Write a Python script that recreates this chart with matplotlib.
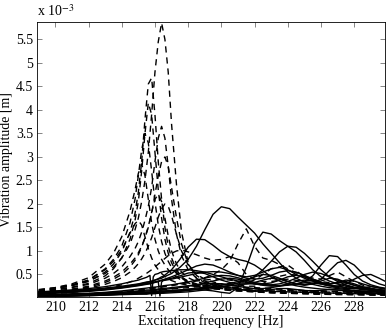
import matplotlib
matplotlib.use("Agg")
import matplotlib.pyplot as plt
import numpy as np
from matplotlib.ticker import FormatStrFormatter

plt.rcParams['font.family'] = ['Liberation Serif', 'DejaVu Serif']
plt.rcParams['mathtext.fontset'] = 'stix'

# frequency grids [Hz]
freq_dashed = [209, 210, 211, 212, 213, 213.5, 214, 214.5, 214.8,
               215.0, 215.2, 215.4, 215.6, 215.8, 216.0, 216.2, 216.4, 216.6, 216.8,
               217.0, 217.3, 217.6, 218, 218.5, 219, 219.5, 220, 220.5, 221, 221.5,
               222, 222.5, 223, 224, 225, 226, 227, 228, 229, 230]
freq_solid = [209, 210, 211, 212, 213, 214, 215,
              215.5, 215.7, 215.8, 215.9, 216, 216.2, 216.3, 216.4, 216.5,
              217, 217.5, 218, 218.5, 219, 219.5, 220, 220.5, 221, 221.5, 222, 222.5,
              223, 223.5, 224, 224.5, 225, 225.5, 226, 226.5, 227, 227.5, 228, 228.5,
              229, 229.5, 230]

# amplitudes (x 1e-3 m), dashed curves
amp_dashed = [
    [0.18, 0.22, 0.28, 0.36, 0.52, 0.66, 0.85, 1.15, 1.45,
     1.7, 2.05, 2.5, 3.1, 3.9, 4.8, 5.45, 5.85, 5.5, 4.8,
     3.7, 2.4, 1.4, 0.75, 0.42, 0.3, 0.24, 0.2, 0.17, 0.15, 0.14, 0.13, 0.12, 0.11, 0.1, 0.09, 0.08, 0.07, 0.07, 0.06, 0.06],
    [0.16, 0.2, 0.26, 0.35, 0.55, 0.72, 0.98, 1.4, 1.8,
     2.25, 2.9, 3.8, 4.55, 4.68, 3.9, 2.9, 2.1, 1.5, 1.1,
     0.85, 0.6, 0.45, 0.35, 0.28, 0.24, 0.2, 0.18, 0.16, 0.15, 0.14, 0.13, 0.12, 0.11, 0.1, 0.09, 0.08, 0.08, 0.07, 0.07, 0.06],
    [0.14, 0.18, 0.23, 0.31, 0.47, 0.62, 0.85, 1.25, 1.65,
     2.05, 2.7, 3.5, 4.15, 3.9, 3.1, 2.3, 1.7, 1.25, 0.95,
     0.75, 0.55, 0.42, 0.33, 0.26, 0.22, 0.2, 0.18, 0.17, 0.16, 0.15, 0.14, 0.13, 0.12, 0.11, 0.1, 0.09, 0.08, 0.08, 0.07, 0.07],
    [0.13, 0.17, 0.22, 0.29, 0.42, 0.52, 0.66, 0.88, 1.05,
     1.2, 1.4, 1.65, 1.95, 2.35, 2.9, 3.4, 3.65, 3.4, 2.8,
     2.1, 1.35, 0.9, 0.6, 0.42, 0.33, 0.28, 0.25, 0.22, 0.2, 0.18, 0.17, 0.16, 0.15, 0.13, 0.12, 0.11, 0.1, 0.09, 0.08, 0.08],
    [0.15, 0.2, 0.27, 0.38, 0.62, 0.82, 1.1, 1.6, 2.1,
     2.6, 3.15, 3.5, 3.3, 2.7, 2.05, 1.55, 1.2, 0.95, 0.78,
     0.65, 0.52, 0.43, 0.36, 0.3, 0.26, 0.23, 0.21, 0.19, 0.18, 0.17, 0.16, 0.15, 0.14, 0.12, 0.11, 0.1, 0.09, 0.09, 0.08, 0.08],
    [0.12, 0.15, 0.19, 0.25, 0.36, 0.44, 0.55, 0.72, 0.85,
     0.96, 1.1, 1.28, 1.5, 1.8, 2.2, 2.6, 2.9, 3.0, 2.8,
     2.35, 1.7, 1.15, 0.72, 0.48, 0.36, 0.3, 0.26, 0.23, 0.21, 0.2, 0.19, 0.18, 0.17, 0.15, 0.14, 0.13, 0.12, 0.11, 0.1, 0.1],
    [0.17, 0.22, 0.3, 0.43, 0.72, 0.95, 1.3, 1.85, 2.3,
     2.65, 2.85, 2.6, 2.1, 1.6, 1.25, 1.0, 0.82, 0.7, 0.6,
     0.52, 0.44, 0.38, 0.32, 0.27, 0.24, 0.22, 0.2, 0.19, 0.18, 0.17, 0.16, 0.15, 0.14, 0.13, 0.12, 0.11, 0.1, 0.1, 0.09, 0.09],
    [0.11, 0.14, 0.18, 0.23, 0.33, 0.4, 0.5, 0.66, 0.8,
     0.92, 1.08, 1.28, 1.52, 1.82, 2.1, 2.2, 2.05, 1.7, 1.32,
     1.0, 0.72, 0.55, 0.43, 0.35, 0.3, 0.27, 0.25, 0.23, 0.22, 0.21, 0.2, 0.19, 0.18, 0.16, 0.15, 0.14, 0.13, 0.12, 0.11, 0.1],
    [0.1, 0.13, 0.16, 0.21, 0.29, 0.35, 0.43, 0.55, 0.65,
     0.73, 0.83, 0.95, 1.1, 1.28, 1.5, 1.72, 1.9, 2.0, 1.95,
     1.75, 1.35, 1.0, 0.7, 0.5, 0.4, 0.34, 0.3, 0.27, 0.25, 0.23, 0.22, 0.21, 0.2, 0.18, 0.16, 0.15, 0.14, 0.13, 0.12, 0.11],
    [0.15, 0.2, 0.27, 0.38, 0.6, 0.78, 1.02, 1.38, 1.58,
     1.65, 1.55, 1.3, 1.05, 0.85, 0.7, 0.6, 0.52, 0.46, 0.41,
     0.37, 0.33, 0.3, 0.27, 0.24, 0.22, 0.2, 0.19, 0.18, 0.17, 0.16, 0.15, 0.14, 0.13, 0.12, 0.11, 0.1, 0.1, 0.09, 0.09, 0.08],
    [0.05, 0.06, 0.07, 0.08, 0.1, 0.11, 0.12, 0.14, 0.15,
     0.16, 0.17, 0.18, 0.19, 0.2, 0.21, 0.22, 0.23, 0.24, 0.25,
     0.26, 0.28, 0.3, 0.33, 0.38, 0.43, 0.5, 0.6, 0.78, 1.15, 1.47, 1.1, 0.85, 0.8, 0.62, 0.45, 0.35, 0.3, 0.22, 0.17, 0.14],
    [0.08, 0.1, 0.12, 0.15, 0.2, 0.24, 0.28, 0.34, 0.38,
     0.42, 0.46, 0.5, 0.55, 0.6, 0.66, 0.72, 0.78, 0.84, 0.9,
     0.95, 1.0, 1.02, 0.98, 0.92, 0.85, 0.8, 0.82, 0.88, 0.75, 0.5, 0.4, 0.35, 0.35, 0.4, 0.35, 0.3, 0.25, 0.2, 0.16, 0.13],
    [0.06, 0.07, 0.08, 0.09, 0.11, 0.12, 0.13, 0.15, 0.16,
     0.17, 0.18, 0.19, 0.2, 0.21, 0.22, 0.23, 0.24, 0.25, 0.26,
     0.27, 0.29, 0.31, 0.33, 0.36, 0.38, 0.4, 0.4, 0.38, 0.35, 0.33, 0.38, 0.5, 0.62, 0.7, 0.45, 0.4, 0.55, 0.35, 0.2, 0.14],
    [0.05, 0.06, 0.07, 0.08, 0.09, 0.1, 0.11, 0.12, 0.13,
     0.14, 0.14, 0.15, 0.15, 0.16, 0.16, 0.17, 0.17, 0.18, 0.18,
     0.19, 0.2, 0.21, 0.22, 0.24, 0.26, 0.28, 0.3, 0.3, 0.28, 0.25, 0.25, 0.3, 0.42, 0.5, 0.48, 0.3, 0.22, 0.15, 0.1, 0.08],
]

# amplitudes (x 1e-3 m), solid curves
amp_solid = [
    [0.12, 0.14, 0.16, 0.18, 0.21, 0.25, 0.3,
     0.34, 0.35, 0.36, 0.37, 0.38, 0.4, 0.41, 0.42, 0.44,
     0.52, 0.65, 0.82, 1.1, 1.45, 1.78, 1.94, 1.9, 1.72, 1.55, 1.38, 1.15, 0.95, 0.75,
     0.55, 0.42, 0.34, 0.29, 0.25, 0.22, 0.2, 0.18, 0.16, 0.15, 0.14, 0.13, 0.12],
    [0.1, 0.12, 0.14, 0.16, 0.19, 0.23, 0.29,
     0.33, 0.34, 0.35, 0.36, 0.38, 0.41, 0.43, 0.45, 0.46,
     0.6, 0.82, 1.08, 1.25, 1.24, 1.12, 0.98, 0.88, 0.82, 0.78, 0.7, 0.58, 0.45, 0.36,
     0.3, 0.26, 0.23, 0.21, 0.19, 0.18, 0.17, 0.16, 0.15, 0.14, 0.13, 0.12, 0.12],
    [0.05, 0.06, 0.07, 0.08, 0.09, 0.1, 0.12,
     0.13, 0.13, 0.13, 0.14, 0.14, 0.14, 0.15, 0.15, 0.15,
     0.16, 0.17, 0.18, 0.18, 0.17, 0.15, 0.12, 0.1, 0.22, 0.65, 1.15, 1.4, 1.36, 1.22,
     1.1, 0.98, 0.8, 0.6, 0.45, 0.36, 0.3, 0.25, 0.22, 0.19, 0.17, 0.16, 0.15],
    [0.04, 0.05, 0.06, 0.07, 0.08, 0.09, 0.1,
     0.11, 0.11, 0.11, 0.12, 0.12, 0.12, 0.13, 0.13, 0.13,
     0.14, 0.15, 0.17, 0.19, 0.21, 0.24, 0.27, 0.31, 0.35, 0.38, 0.45, 0.6, 0.78, 0.98,
     1.1, 1.08, 0.95, 0.78, 0.6, 0.45, 0.35, 0.28, 0.23, 0.2, 0.18, 0.16, 0.15],
    [0.03, 0.04, 0.05, 0.06, 0.07, 0.08, 0.09,
     0.1, 0.1, 0.1, 0.1, 0.11, 0.11, 0.11, 0.11, 0.12,
     0.13, 0.14, 0.16, 0.18, 0.2, 0.22, 0.24, 0.26, 0.28, 0.3, 0.3, 0.29, 0.27, 0.26,
     0.27, 0.3, 0.35, 0.47, 0.7, 0.9, 0.88, 0.7, 0.5, 0.36, 0.28, 0.23, 0.2],
    [0.03, 0.035, 0.04, 0.05, 0.06, 0.07, 0.08,
     0.08, 0.09, 0.09, 0.09, 0.09, 0.1, 0.1, 0.1, 0.1,
     0.11, 0.12, 0.13, 0.15, 0.17, 0.2, 0.23, 0.27, 0.32, 0.38, 0.45, 0.5, 0.48, 0.42,
     0.35, 0.3, 0.27, 0.3, 0.4, 0.58, 0.75, 0.8, 0.7, 0.52, 0.38, 0.3, 0.25],
    [0.06, 0.07, 0.08, 0.09, 0.1, 0.12, 0.14,
     0.15, 0.15, 0.16, 0.16, 0.16, 0.17, 0.17, 0.17, 0.18,
     0.2, 0.22, 0.25, 0.28, 0.32, 0.36, 0.4, 0.42, 0.4, 0.35, 0.3, 0.27, 0.25, 0.26,
     0.3, 0.35, 0.38, 0.36, 0.3, 0.26, 0.25, 0.3, 0.4, 0.48, 0.5, 0.42, 0.33],
    [0.09, 0.11, 0.13, 0.15, 0.18, 0.22, 0.27,
     0.3, 0.31, 0.32, 0.33, 0.34, 0.36, 0.37, 0.38, 0.39,
     0.45, 0.52, 0.6, 0.68, 0.72, 0.7, 0.63, 0.55, 0.48, 0.42, 0.4, 0.42, 0.48, 0.55,
     0.58, 0.55, 0.48, 0.4, 0.33, 0.28, 0.25, 0.22, 0.2, 0.18, 0.16, 0.15, 0.14],
    [0.13, 0.15, 0.17, 0.2, 0.24, 0.3, 0.38,
     0.44, 0.48, 0.05, 0.45, 0.5, 0.52, 0.54, 0.55, 0.56,
     0.58, 0.6, 0.6, 0.58, 0.55, 0.5, 0.45, 0.4, 0.36, 0.33, 0.3, 0.28, 0.28, 0.3,
     0.35, 0.42, 0.5, 0.55, 0.52, 0.45, 0.38, 0.32, 0.27, 0.23, 0.2, 0.18, 0.16],
    [0.08, 0.1, 0.12, 0.14, 0.17, 0.21, 0.26,
     0.29, 0.3, 0.31, 0.32, 0.33, 0.35, 0.04, 0.34, 0.37,
     0.4, 0.44, 0.48, 0.52, 0.55, 0.56, 0.55, 0.52, 0.48, 0.45, 0.48, 0.55, 0.62, 0.65,
     0.6, 0.5, 0.42, 0.36, 0.32, 0.3, 0.32, 0.35, 0.3, 0.24, 0.2, 0.17, 0.15],
    [0.06, 0.07, 0.09, 0.1, 0.12, 0.15, 0.19,
     0.21, 0.22, 0.22, 0.23, 0.23, 0.24, 0.25, 0.25, 0.26,
     0.28, 0.31, 0.34, 0.38, 0.42, 0.46, 0.48, 0.47, 0.43, 0.38, 0.33, 0.3, 0.32, 0.38,
     0.45, 0.48, 0.45, 0.38, 0.32, 0.3, 0.33, 0.38, 0.36, 0.3, 0.25, 0.21, 0.18],
    [0.11, 0.12, 0.14, 0.16, 0.19, 0.23, 0.28,
     0.31, 0.32, 0.32, 0.33, 0.34, 0.35, 0.36, 0.37, 0.38,
     0.42, 0.47, 0.53, 0.55, 0.52, 0.45, 0.38, 0.33, 0.3, 0.3, 0.33, 0.38, 0.42, 0.4,
     0.35, 0.3, 0.28, 0.3, 0.36, 0.42, 0.4, 0.33, 0.27, 0.22, 0.19, 0.16, 0.14],
    [0.05, 0.06, 0.07, 0.08, 0.1, 0.12, 0.15,
     0.17, 0.17, 0.18, 0.18, 0.18, 0.19, 0.19, 0.2, 0.2,
     0.22, 0.24, 0.26, 0.28, 0.3, 0.31, 0.3, 0.28, 0.25, 0.22, 0.2, 0.2, 0.22, 0.25,
     0.28, 0.3, 0.32, 0.32, 0.3, 0.26, 0.22, 0.2, 0.2, 0.22, 0.24, 0.22, 0.19],
    [0.02, 0.03, 0.04, 0.05, 0.06, 0.08, 0.1,
     0.11, 0.11, 0.12, 0.12, 0.12, 0.13, 0.13, 0.13, 0.14,
     0.15, 0.17, 0.19, 0.21, 0.23, 0.24, 0.24, 0.22, 0.19, 0.16, 0.14, 0.15, 0.18, 0.2,
     0.2, 0.18, 0.16, 0.15, 0.16, 0.18, 0.17, 0.15, 0.13, 0.12, 0.11, 0.1, 0.09],
]

x_ticks = [210, 212, 214, 216, 218, 220, 222, 224, 226, 228]
y_ticks = [0.5, 1, 1.5, 2, 2.5, 3, 3.5, 4, 4.5, 5, 5.5]

fig = plt.figure(figsize=(3.9, 3.28), dpi=100)
ax = fig.add_axes([0.095, 0.094, 0.892, 0.839])

for a in amp_solid:
    ax.plot(freq_solid, a, color='black', lw=1.0)
for a in amp_dashed:
    ax.plot(freq_dashed, a, color='black', lw=1.0, linestyle=(0, (4.5, 3.5)))

ax.set_xlim(208.9, 229.85)
ax.set_ylim(0.017, 5.87)
ax.set_xticks(x_ticks)
ax.set_yticks(y_ticks)
ax.yaxis.set_major_formatter(FormatStrFormatter('%g'))
ax.tick_params(direction='in', top=True, right=True, length=3.5, width=0.5,
               labelsize=10, pad=3, color='#555555')
for s in ax.spines.values():
    s.set_linewidth(0.6)

ax.set_xlabel('Excitation frequency [Hz]', fontsize=10, labelpad=0)
ax.set_ylabel('Vibration amplitude [m]', fontsize=10, labelpad=2)
ax.text(0.0, 1.012, r'x 10$^{-3}$', transform=ax.transAxes, fontsize=10,
        ha='left', va='bottom')

fig.savefig('out.png', dpi=100)
